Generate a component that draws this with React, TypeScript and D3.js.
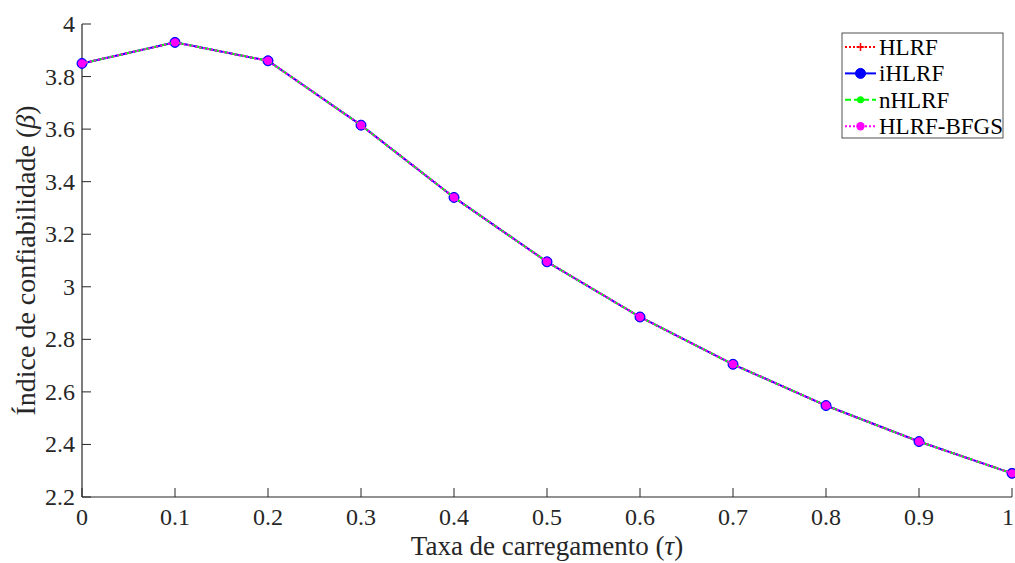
import React from 'react';
import * as d3 from 'd3';

const taxa = [0, 0.1, 0.2, 0.3, 0.4, 0.5, 0.6, 0.7, 0.8, 0.9, 1];
const beta = [3.85, 3.93, 3.86, 3.615, 3.34, 3.095, 2.885, 2.705, 2.548, 2.411, 2.29];
const xTicks = [0, 0.1, 0.2, 0.3, 0.4, 0.5, 0.6, 0.7, 0.8, 0.9, 1];
const yTicks = [2.2, 2.4, 2.6, 2.8, 3, 3.2, 3.4, 3.6, 3.8, 4];

const series = [
  { name: 'HLRF', color: '#ff0000', dash: '2,2', width: 2, marker: 'plus' },
  { name: 'iHLRF', color: '#0000ff', dash: null, width: 2, marker: 'circle' },
  { name: 'nHLRF', color: '#00ff00', dash: '6,3', width: 2, marker: 'dot' },
  { name: 'HLRF-BFGS', color: '#ff00ff', dash: '2,2', width: 2, marker: 'circle' },
];

const W = 1015;
const H = 563;
const m = { left: 82, right: 1012, top: 24, bottom: 497 };
const font = '"Liberation Serif", "Times New Roman", serif';
const axisColor = '#262626';

function Marker({ kind, color, cx, cy }: { kind: string; color: string; cx: number; cy: number }) {
  if (kind === 'plus') {
    return (
      <g stroke={color} strokeWidth={1.5}>
        <line x1={cx - 4} x2={cx + 4} y1={cy} y2={cy} />
        <line x1={cx} x2={cx} y1={cy - 4} y2={cy + 4} />
      </g>
    );
  }
  if (kind === 'dot') return <circle cx={cx} cy={cy} r={3.5} fill={color} />;
  if (color === '#0000ff') return <circle cx={cx} cy={cy} r={5} fill={color} stroke={color} strokeWidth={1} />;
  return <circle cx={cx} cy={cy} r={4.2} fill={color} />;
}

export default function App() {
  const x = d3.scaleLinear().domain([0, 1]).range([m.left, m.right]);
  const y = d3.scaleLinear().domain([2.2, 4]).range([m.bottom, m.top]);
  const line = d3
    .line<number>()
    .x((_, i) => x(taxa[i]))
    .y((d) => y(d));

  const legX = 842;
  const legY = 33;
  const rowH = 26.4;

  return (
    <svg width={W} height={H} style={{ position: 'absolute', left: 0, top: 0, background: '#fff' }} fontFamily={font}>
      {/* axes */}
      <line x1={m.left} x2={m.left} y1={m.top} y2={m.bottom} stroke={axisColor} strokeWidth={1.2} />
      <line x1={m.left} x2={m.right} y1={m.bottom} y2={m.bottom} stroke={axisColor} strokeWidth={1.2} />
      {yTicks.map((t) => (
        <g key={'y' + t}>
          <line x1={m.left} x2={m.left + 9} y1={y(t)} y2={y(t)} stroke={axisColor} strokeWidth={1} />
          <text x={m.left - 7} y={y(t) + 8} textAnchor="end" fontSize={24} fill={axisColor}>
            {d3.format('~g')(t)}
          </text>
        </g>
      ))}
      {xTicks.map((t) => (
        <g key={'x' + t}>
          <line x1={x(t)} x2={x(t)} y1={m.bottom} y2={m.bottom - 9} stroke={axisColor} strokeWidth={1} />
          <text x={Math.min(x(t), W - 7)} y={525} textAnchor="middle" fontSize={24} fill={axisColor}>
            {d3.format('~g')(t)}
          </text>
        </g>
      ))}
      <text x={(m.left + m.right) / 2} y={555} textAnchor="middle" fontSize={27} fill={axisColor}>
        Taxa de carregamento (<tspan fontStyle="italic">τ</tspan>)
      </text>
      <text
        transform={`translate(35, ${(m.top + m.bottom) / 2}) rotate(-90)`}
        textAnchor="middle"
        fontSize={28}
        fill={axisColor}
      >
        Índice de confiabilidade (<tspan fontStyle="italic">β</tspan>)
      </text>

      {/* series */}
      {series.map((s) => (
        <g key={s.name}>
          <path
            d={line(beta) || ''}
            fill="none"
            stroke={s.color}
            strokeWidth={s.width}
            strokeDasharray={s.dash || undefined}
          />
          {beta.map((v, i) => (
            <Marker key={i} kind={s.marker} color={s.color} cx={x(taxa[i])} cy={y(v)} />
          ))}
        </g>
      ))}

      {/* legend */}
      <rect x={legX} y={legY} width={161} height={105} fill="#fff" stroke={axisColor} strokeWidth={0.8} />
      {series.map((s, i) => {
        const cy = legY + 14 + i * rowH;
        return (
          <g key={'leg' + s.name}>
            <line
              x1={legX + 3}
              x2={legX + 34}
              y1={cy}
              y2={cy}
              stroke={s.color}
              strokeWidth={s.width}
              strokeDasharray={s.dash || undefined}
            />
            <Marker kind={s.marker} color={s.color} cx={legX + 18.5} cy={cy} />
            <text x={legX + 37} y={cy + 8} fontSize={23} fill="#000">
              {s.name}
            </text>
          </g>
        );
      })}
    </svg>
  );
}
